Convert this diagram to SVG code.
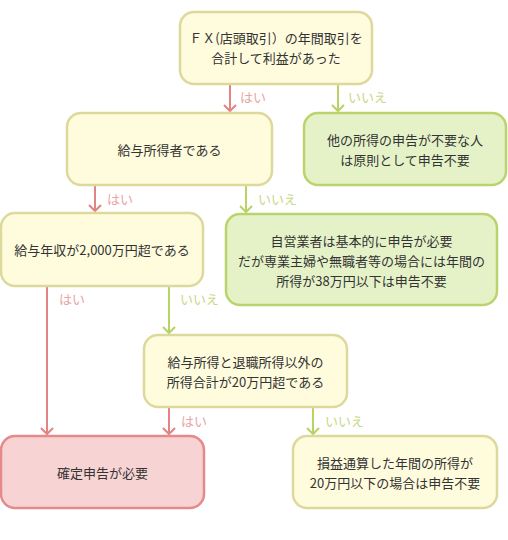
<svg xmlns="http://www.w3.org/2000/svg" width="508" height="540" viewBox="0 0 508 540">
<defs>
<style>
.t{font-family:"Noto Sans CJK JP","Noto Sans",sans-serif;font-size:13px;fill:#333;text-anchor:middle;dominant-baseline:central}
.y{fill:#fffbdd;stroke:#ddd99c;stroke-width:2.5}
.g{fill:#e5f2c8;stroke:#bbd36c;stroke-width:2.5}
.r{fill:#f8d3d3;stroke:#e48a8a;stroke-width:2.5}
.cr{stroke:#e48383;stroke-width:2;fill:none}
.cg{stroke:#b9d266;stroke-width:2;fill:none}
.ly{font-family:"Noto Sans CJK JP","Noto Sans",sans-serif;font-size:13px;fill:#eba3a3;dominant-baseline:central}
.ln{font-family:"Noto Sans CJK JP","Noto Sans",sans-serif;font-size:13px;fill:#c6da85;dominant-baseline:central}
</style>
</defs>
<g id="connectors">
<path class="cr" d="M230,84 V111"/>
<path class="cg" d="M338,84 V111"/>
<path class="cr" d="M95,185 V211"/>
<path class="cg" d="M246,185 V212"/>
<path class="cr" d="M47,286 V434"/>
<path class="cg" d="M169,286 V333"/>
<path class="cr" d="M169,407 V434"/>
<path class="cg" d="M313,407 V434"/>
<path class="cr" d="M224,105 L230,111 L236,105"/>
<path class="cg" d="M332,105 L338,111 L344,105"/>
<path class="cr" d="M89,205 L95,211 L101,205"/>
<path class="cg" d="M240,206 L246,212 L252,206"/>
<path class="cr" d="M41,428 L47,434 L53,428"/>
<path class="cg" d="M163,327 L169,333 L175,327"/>
<path class="cr" d="M163,428 L169,434 L175,428"/>
<path class="cg" d="M307,428 L313,434 L319,428"/>
<text class="ly" x="240" y="96">はい</text>
<text class="ln" x="348" y="96">いいえ</text>
<text class="ly" x="107" y="198">はい</text>
<text class="ln" x="258" y="198">いいえ</text>
<text class="ly" x="59" y="298">はい</text>
<text class="ln" x="180" y="298">いいえ</text>
<text class="ly" x="181" y="420">はい</text>
<text class="ln" x="325" y="420">いいえ</text>
</g>
<g id="n1"><rect class="y" x="180" y="12" width="192" height="72" rx="14"/><text class="t" x="276" y="37">ＦＸ(店頭取引）の年間取引を</text><text class="t" x="276" y="57">合計して利益があった</text></g>
<g id="n2"><rect class="y" x="67" y="113" width="205" height="72" rx="14"/><text class="t" x="169.5" y="149">給与所得者である</text></g>
<g id="n3"><rect class="g" x="304" y="113" width="202" height="72" rx="14"/><text class="t" x="405" y="139">他の所得の申告が不要な人</text><text class="t" x="405" y="159">は原則として申告不要</text></g>
<g id="n4"><rect class="y" x="1" y="213" width="202" height="73" rx="14"/><text class="t" x="102" y="249.5">給与年収が2,000万円超である</text></g>
<g id="n5"><rect class="g" x="226" y="214" width="271" height="91" rx="14"/><text class="t" x="361.5" y="240">自営業者は基本的に申告が必要</text><text class="t" x="361.5" y="260">だが専業主婦や無職者等の場合には年間の</text><text class="t" x="361.5" y="280">所得が38万円以下は申告不要</text></g>
<g id="n6"><rect class="y" x="144" y="335" width="203" height="72" rx="14"/><text class="t" x="245.5" y="361">給与所得と退職所得以外の</text><text class="t" x="245.5" y="381">所得合計が20万円超である</text></g>
<g id="n7"><rect class="r" x="1" y="436" width="203" height="72" rx="14"/><text class="t" x="102.5" y="472">確定申告が必要</text></g>
<g id="n8"><rect class="y" x="293" y="436" width="204" height="72" rx="14"/><text class="t" x="395" y="462">損益通算した年間の所得が</text><text class="t" x="395" y="482">20万円以下の場合は申告不要</text></g>
</svg>
